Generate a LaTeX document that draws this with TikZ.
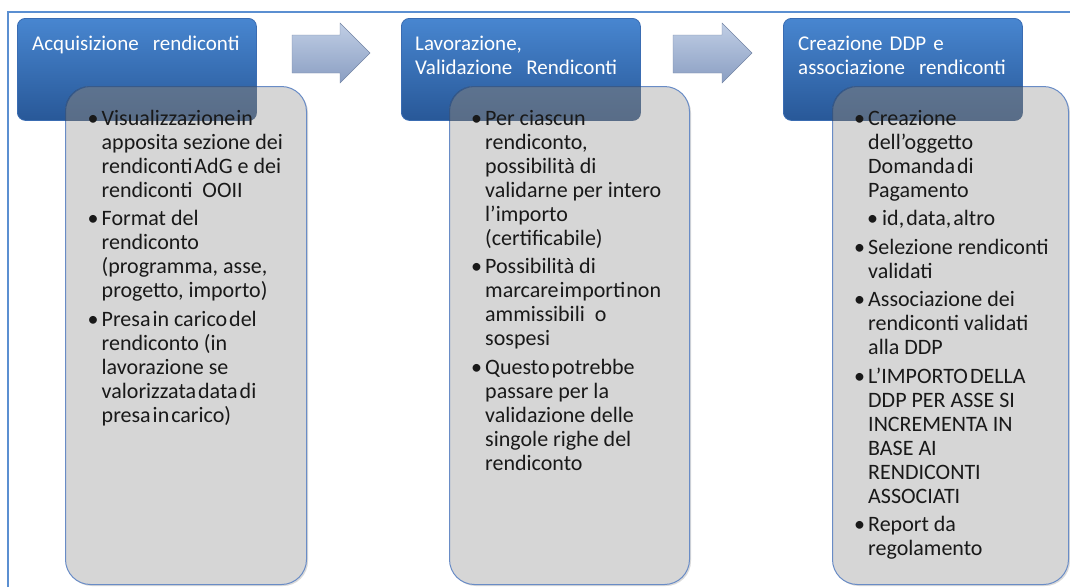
\documentclass[tikz,border=0pt]{standalone}
\usepackage{fontspec}
\setmainfont{Carlito}
\usetikzlibrary{shadows}
\definecolor{frameblue}{RGB}{91,143,209}
\definecolor{hdtop}{RGB}{72,134,208}
\definecolor{hdbot}{RGB}{40,88,152}
\definecolor{hdborder}{RGB}{58,108,178}
\definecolor{grayfill}{RGB}{214,214,214}
\definecolor{grayborder}{RGB}{105,140,198}
\definecolor{arrtop}{RGB}{192,206,229}
\definecolor{arrbot}{RGB}{138,158,194}
\definecolor{bodytext}{RGB}{25,25,25}
\newcommand{\bitem}[1]{\par\noindent\hangindent=14pt\hangafter=1\makebox[14pt][l]{\textbullet}#1\par}
\newcommand{\sitem}[1]{\par\noindent\hspace*{13pt}\makebox[15pt][l]{\textbullet}#1\par}
\newcommand{\gap}{\vspace{4.5pt}}
\newcommand{\bodybox}[1]{\parbox[t]{225pt}{#1}}
\tikzset{
  header/.style={rounded corners=8pt, top color=hdtop, bottom color=hdbot, draw=hdborder, line width=0.8pt, anchor=north west, inner sep=0pt, minimum height=102pt},
  panel/.style={rounded corners=25pt, fill=grayfill, draw=grayborder, line width=1pt, anchor=north west, inner sep=0pt, minimum height=498pt,
    drop shadow={shadow xshift=1.5pt, shadow yshift=-1.5pt, opacity=0.3}},
  overlay/.style={top color=hdtop, bottom color=hdbot, opacity=0.42},
  blockarrow/.style={top color=arrtop, bottom color=arrbot, draw=arrbot!85!black, line width=0.4pt},
  htext/.style={anchor=base west, inner sep=0pt, text=white, font=\fontsize{21}{24}\selectfont, align=left, text width=225pt},
  btext/.style={anchor=base west, inner sep=0pt, text=bodytext, font=\fontsize{22}{24}\selectfont},
}
\begin{document}
\begin{tikzpicture}[x=1pt,y=-1pt]
\useasboundingbox (0,0) rectangle (1070,587);
% frame
\draw[frameblue, line width=1.4pt] (8,587) -- (8,12) -- (1070,12);
% headers
\node[header, minimum width=239pt] (h1) at (17,18) {};
\node[header, minimum width=239pt] (h2) at (401,18) {};
\node[header, minimum width=239pt] (h3) at (783,18) {};
% panels
\node[panel, minimum width=241pt] (p1) at (65,86) {};
\node[panel, minimum width=240pt] (p2) at (449,86) {};
\node[panel, minimum width=236pt] (p3) at (832,86) {};
% header seen through panels
\begin{scope}
  \clip[rounded corners=25pt] (p1.north west) rectangle (p1.south east);
  \fill[overlay, rounded corners=8pt] (h1.north west) rectangle (h1.south east);
\end{scope}
\begin{scope}
  \clip[rounded corners=25pt] (p2.north west) rectangle (p2.south east);
  \fill[overlay, rounded corners=8pt] (h2.north west) rectangle (h2.south east);
\end{scope}
\begin{scope}
  \clip[rounded corners=25pt] (p3.north west) rectangle (p3.south east);
  \fill[overlay, rounded corners=8pt] (h3.north west) rectangle (h3.south east);
\end{scope}
% block arrows
\draw[blockarrow] (292,35) -- (340,35) -- (340,23) -- (370,53) -- (340,83) -- (340,73) -- (292,73) -- cycle;
\draw[blockarrow] (673,35) -- (722,35) -- (722,23) -- (752,53) -- (722,83) -- (722,73) -- (673,73) -- cycle;
% header texts
\node[htext] (t1) at (32,50) {Acquisizione\ \ rendiconti};
\node[htext] (t2) at (415,50) {Lavorazione,\\Validazione\ \ Rendiconti};
\node[htext] (t3) at (798,50) {Creazione DDP e\\associazione\ \ rendiconti};
% body texts
\node[btext] (b1) at (87.5,125) {\bodybox{%
\bitem{Visualizzazione\hspace{1pt}in\\apposita sezione dei\\rendiconti\hspace{2pt}AdG e dei\\rendiconti\ \ OOII}\gap
\bitem{Format del\\rendiconto\\(programma, asse,\\progetto, importo)}\gap
\bitem{Presa\hspace{2pt}in carico\hspace{2pt}del\\rendiconto (in\\lavorazione se\\valorizzata\hspace{2pt}data\hspace{2pt}di\\presa\hspace{2pt}in\hspace{2pt}carico)}}};
\node[btext] (b2) at (471,125) {\bodybox{%
\bitem{Per ciascun\\rendiconto,\\possibilità di\\validarne per intero\\l’importo\\(certificabile)}\gap
\bitem{Possibilità di\\marcare\hspace{1pt}importi\hspace{1pt}non\\ammissibili\ \ o\\sospesi}\gap
\bitem{Questo\hspace{2pt}potrebbe\\passare per la\\validazione delle\\singole righe del\\rendiconto}}};
\node[btext] (b3) at (854,125) {\bodybox{%
\bitem{Creazione\\dell’oggetto\\Domanda\hspace{2pt}di\\Pagamento}\gap
\sitem{id,\hspace{2pt}data,\hspace{2pt}altro}\gap
\bitem{Selezione rendiconti\\validati}\gap
\bitem{Associazione dei\\rendiconti validati\\alla DDP}\gap
\bitem{L’IMPORTO\hspace{2pt}DELLA\\DDP PER ASSE SI\\INCREMENTA IN\\BASE AI\\RENDICONTI\\ASSOCIATI}\gap
\bitem{Report da\\regolamento}}};
\end{tikzpicture}
\end{document}
